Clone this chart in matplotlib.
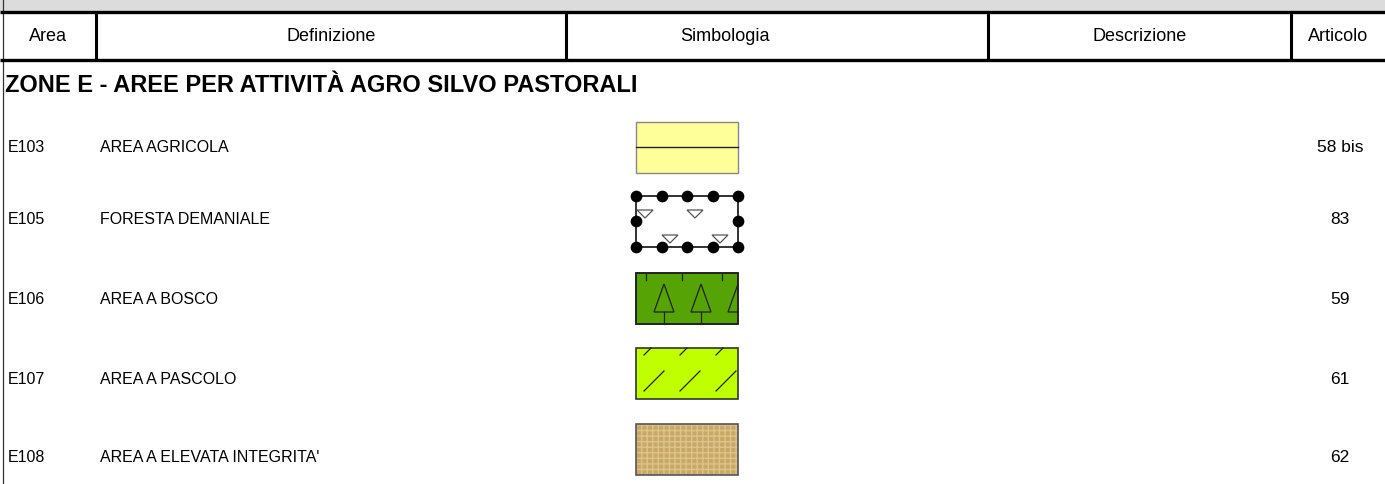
import matplotlib
matplotlib.use("Agg")
import matplotlib.pyplot as plt
from matplotlib.patches import Rectangle, Polygon

plt.rcParams['font.family'] = ['Liberation Sans', 'DejaVu Sans']

# table content
headers = ['Area', 'Definizione', 'Simbologia', 'Descrizione', 'Articolo']
section = 'ZONE E - AREE PER ATTIVITÀ AGRO SILVO PASTORALI'
codes = ['E103', 'E105', 'E106', 'E107', 'E108']
definitions = ['AREA AGRICOLA', 'FORESTA DEMANIALE', 'AREA A BOSCO',
               'AREA A PASCOLO', "AREA A ELEVATA INTEGRITA'"]
articles = ['58 bis', '83', '59', '61', '62']
symbols = ['agricola', 'foresta', 'bosco', 'pascolo', 'integrita']

W, H = 1385, 484
fig = plt.figure(figsize=(W / 100, H / 100), dpi=100)
ax = fig.add_axes([0, 0, 1, 1])
ax.set_xlim(0, W)
ax.set_ylim(H, 0)
ax.axis('off')

# header band
ax.add_patch(Rectangle((0, 0), W, 11, color='#dcdcdc', lw=0))
ax.axvline(2.5, color='#333333', lw=0.9)
col_edges = [96, 566, 988, 1291]
col_centers = [48, 331, 725, 1140, 1338]
for y in (12, 60):
    ax.plot([0, W], [y, y], color='black', lw=2.4, solid_capstyle='butt')
for x in col_edges:
    ax.plot([x, x], [12, 60], color='black', lw=2.2, solid_capstyle='butt')
for x, h in zip(col_centers, headers):
    ax.text(x, 41, h, ha='center', va='baseline', fontsize=13)

ax.text(5, 86, section, ha='left', va='center', fontsize=17, fontweight='bold')

row_y = [147, 221, 298, 373, 449]
text_y = [147, 220, 300, 380, 457]
sx0, sx1 = 636, 738


def sym_box(y, fill, edge='#333333', lw=1.2):
    r = Rectangle((sx0, y - 25), sx1 - sx0, 51, facecolor=fill, edgecolor=edge, lw=lw, zorder=2)
    ax.add_patch(r)
    return y - 25, y + 26


for code, name, art, sym, y, ty in zip(codes, definitions, articles, symbols, row_y, text_y):
    ax.text(8, ty, code, ha='left', va='center', fontsize=11.5)
    ax.text(100, ty, name, ha='left', va='center', fontsize=11.5)
    ax.text(1340, ty, art, ha='center', va='center', fontsize=12.5)

    if sym == 'agricola':
        top, bot = sym_box(y, '#ffff99', edge='#888888', lw=1.0)
        ax.plot([sx0, sx1], [y, y], color='#222222', lw=1.0, zorder=3)
    elif sym == 'foresta':
        top, bot = y - 25, y + 26
        ax.add_patch(Rectangle((sx0, top), sx1 - sx0, bot - top, facecolor='white',
                               edgecolor='#222222', lw=1.3, zorder=2))
        for tx, tty in [(645, top + 18), (695, top + 18), (670, top + 43), (720, top + 43)]:
            ax.add_patch(Polygon([(tx - 8, tty - 4), (tx + 8, tty - 4), (tx, tty + 4)],
                                 closed=True, facecolor='white', edgecolor='#555555', lw=0.9, zorder=3))
        dx = [sx0 + i * (sx1 - sx0) / 4 for i in range(5)]
        ax.scatter(dx, [top] * 5, s=55, color='black', zorder=4)
        ax.scatter(dx, [bot] * 5, s=55, color='black', zorder=4)
        ax.scatter([sx0, sx1], [y, y], s=55, color='black', zorder=4)
    elif sym == 'bosco':
        top, bot = sym_box(y, '#55a304', edge='#222222')
        for tx in (646, 682, 722):
            ax.plot([tx, tx], [top, top + 7], color='#222222', lw=0.9, zorder=3)
        for tx in (664, 701, 738):
            ax.add_patch(Polygon([(tx - 10, top + 39), (tx + 10, top + 39), (tx, top + 11)],
                                 closed=True, fill=False, edgecolor='#222222', lw=0.9, zorder=3))
            if tx < 730:
                ax.plot([tx, tx], [top + 39, bot], color='#222222', lw=0.9, zorder=3)
        ax.add_patch(Rectangle((sx1 + 0.8, top - 2), 20, bot - top + 4, color='white', zorder=3.5))
        ax.add_patch(Rectangle((sx0, top), sx1 - sx0, bot - top, fill=False,
                               edgecolor='#222222', lw=1.2, zorder=4))
    elif sym == 'pascolo':
        top, bot = sym_box(y, '#bfff00', edge='#333333')
        for tx in (644, 680, 716):
            ax.plot([tx, tx + 7], [top + 7, top], color='#222222', lw=0.9, zorder=3)
            ax.plot([tx, tx + 20], [top + 43, top + 23], color='#222222', lw=0.9, zorder=3)
    elif sym == 'integrita':
        top, bot = y - 25, y + 26
        ax.add_patch(Rectangle((sx0, top), sx1 - sx0, bot - top, facecolor='#c9a865',
                               edgecolor='#dcc48e', hatch='+++', lw=0, zorder=2))
        ax.add_patch(Rectangle((sx0, top), sx1 - sx0, bot - top, fill=False,
                               edgecolor='#555555', lw=1.2, zorder=3))

fig.savefig('out.png', dpi=100)
